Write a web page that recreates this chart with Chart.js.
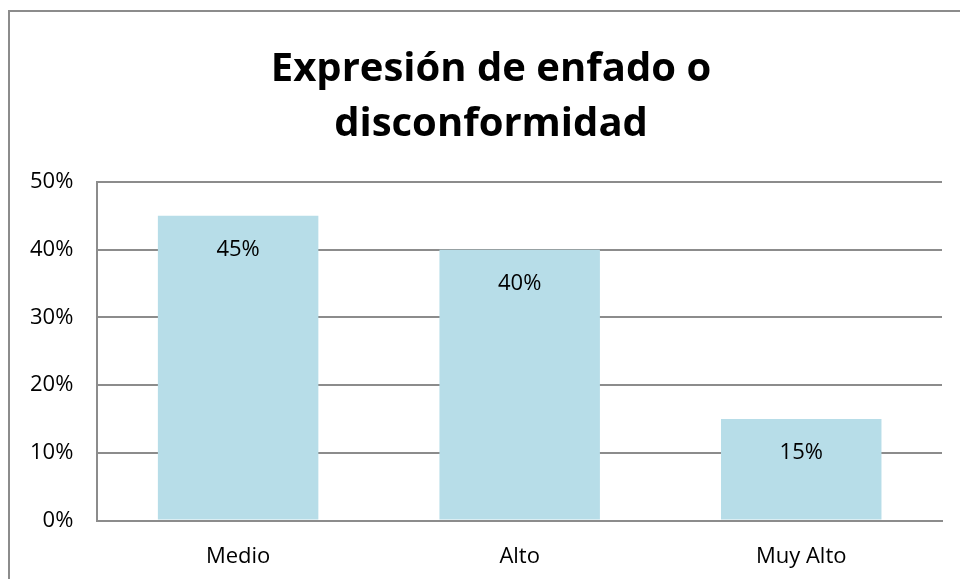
<!DOCTYPE html>
<html>
<head>
<meta charset="utf-8">
<script src="https://cdn.jsdelivr.net/npm/chart.js@4"></script>
<style>
  html, body { margin: 0; padding: 0; background: #fff; }
  #wrap { position: relative; width: 960px; height: 579px; }
</style>
</head>
<body>
<div id="wrap"><canvas id="chart" width="960" height="579"></canvas></div>
<script>
const categories = ['Medio', 'Alto', 'Muy Alto'];
const values = [45, 40, 15];
const yTicks = [0, 10, 20, 30, 40, 50];
const titleLines = ['Expresión de enfado o', 'disconformidad'];

const fontFamily = "'Open Sans', 'Noto Sans', sans-serif";

// frame around the whole chart, open on the right and bottom like the original
const framePlugin = {
    id: 'frame',
    beforeDraw(chart) {
        const ctx = chart.ctx;
        ctx.save();
        ctx.strokeStyle = '#8c8c8c';
        ctx.lineWidth = 2;
        ctx.beginPath();
        ctx.moveTo(9, 590);
        ctx.lineTo(9, 11);
        ctx.lineTo(970, 11);
        ctx.stroke();
        ctx.restore();
    }
};

// title drawn by hand so it can sit a bit left of the plot centre, as in the original
const titlePlugin = {
    id: 'handTitle',
    afterDraw(chart) {
        const ctx = chart.ctx;
        ctx.save();
        ctx.font = `bold 40px ${fontFamily}`;
        ctx.fillStyle = '#000';
        ctx.textAlign = 'center';
        ctx.textBaseline = 'middle';
        titleLines.forEach((line, i) => {
            ctx.fillText(line, 491, 70 + i * 55);
        });
        ctx.restore();
    }
};

// percentage labels inside the top of each bar
const barLabels = {
    id: 'barLabels',
    afterDatasetsDraw(chart) {
        const ctx = chart.ctx;
        const meta = chart.getDatasetMeta(0);
        ctx.save();
        ctx.font = `22px ${fontFamily}`;
        ctx.fillStyle = '#000';
        ctx.textAlign = 'center';
        ctx.textBaseline = 'middle';
        meta.data.forEach((bar, i) => {
            ctx.fillText(values[i] + '%', bar.x, bar.y + 34);
        });
        ctx.restore();
    }
};

new Chart(document.getElementById('chart'), {
    type: 'bar',
    data: {
        labels: categories,
        datasets: [{
            data: values,
            backgroundColor: '#b7dde8',
            borderWidth: 0,
            barPercentage: 0.57,
            categoryPercentage: 1
        }]
    },
    options: {
        responsive: false,
        animation: false,
        layout: { padding: { left: 6, right: 18, top: 182, bottom: -14 } },
        plugins: {
            legend: { display: false },
            tooltip: { enabled: false },
            title: { display: false }
        },
        scales: {
            x: {
                grid: { display: false, drawTicks: false },
                border: { color: '#8c8c8c', width: 2 },
                ticks: { color: '#000', font: { family: fontFamily, size: 22 }, padding: 23 }
            },
            y: {
                min: 0,
                max: 50,
                afterBuildTicks(scale) {
                    scale.ticks = yTicks.map(v => ({ value: v }));
                },
                grid: { color: '#8c8c8c', lineWidth: 2, drawTicks: false },
                border: { color: '#8c8c8c', width: 2 },
                ticks: {
                    color: '#000',
                    font: { family: fontFamily, size: 22 },
                    padding: 24,
                    callback: v => v + '%'
                }
            }
        }
    },
    plugins: [framePlugin, titlePlugin, barLabels]
});
</script>
</body>
</html>
